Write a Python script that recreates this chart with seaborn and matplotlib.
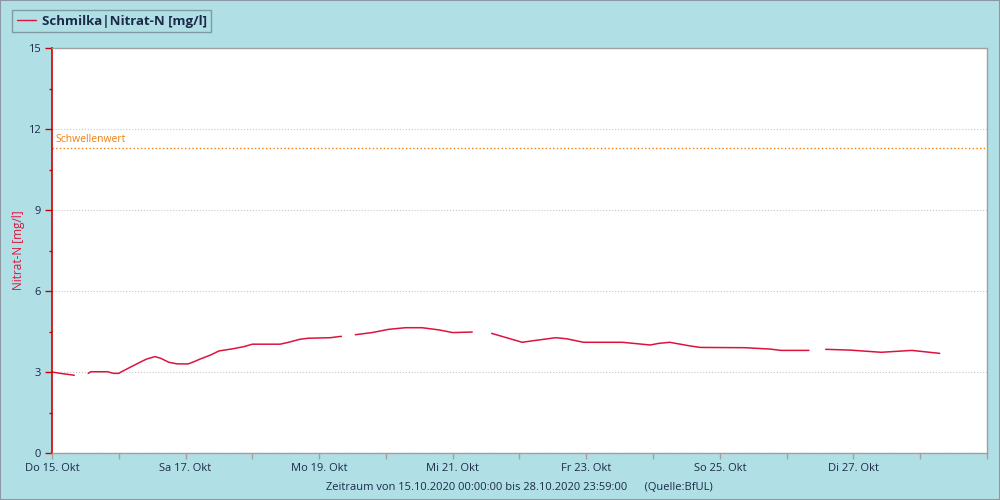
import pandas as pd
import numpy as np
import matplotlib.pyplot as plt
import matplotlib.dates as mdates
from matplotlib.ticker import MultipleLocator
from matplotlib.lines import Line2D
from matplotlib.patches import Rectangle
import seaborn as sns

# Messwerte Schmilka, Nitrat-N [mg/l] - Stunden ab 15.10.2020 00:00
hours = [0, 3, 8,
         13, 14, 20, 22, 24, 25, 28, 32, 34, 37, 39, 42, 45, 49, 51, 53, 57, 60,
         65, 69, 72, 82, 85, 89, 92, 100, 103, 104,
         109, 115, 121, 127, 133, 139, 144, 151,
         158, 163, 169, 173, 181, 185, 191, 205, 215, 218, 222, 229, 233, 249,
         258, 262, 272,
         278, 287, 298, 309, 319]
nitrat = [3.00, 2.95, 2.88,
          2.95, 3.01, 3.01, 2.95, 2.95, 3.01, 3.17, 3.38, 3.48, 3.57, 3.51, 3.36,
          3.30, 3.30, 3.38, 3.47, 3.63, 3.78, 3.86, 3.94, 4.03, 4.03, 4.10, 4.21,
          4.25, 4.27, 4.31, 4.32,
          4.38, 4.46, 4.58, 4.64, 4.64, 4.56, 4.46, 4.48,
          4.43, 4.28, 4.10, 4.16, 4.27, 4.23, 4.10, 4.10, 4.00, 4.06, 4.10, 3.97,
          3.91, 3.90, 3.85, 3.80, 3.80,
          3.84, 3.81, 3.73, 3.80, 3.69]
# Datenluecken trennen die Abschnitte
segment = [1] * 3 + [2] * 28 + [3] * 8 + [4] * 17 + [5] * 5

threshold = 11.3
tick_dates = ["2020-10-15", "2020-10-17", "2020-10-19", "2020-10-21",
              "2020-10-23", "2020-10-25", "2020-10-27"]
tick_labels = ["Do 15. Okt", "Sa 17. Okt", "Mo 19. Okt", "Mi 21. Okt",
               "Fr 23. Okt", "So 25. Okt", "Di 27. Okt"]
y_ticks = [0, 3, 6, 9, 12, 15]

BG = "#b0e0e6"
LINE = "#dc143c"
TXT = "#1c2a48"
GRAY = "#a0a0a0"

sns.set_style("white")
plt.rcParams['font.family'] = ['Open Sans', 'DejaVu Sans']

start = pd.Timestamp("2020-10-15")
df = pd.DataFrame({"zeit": start + pd.to_timedelta(hours, unit="h"),
                   "wert": nitrat, "seg": segment})

fig = plt.figure(figsize=(10, 5), dpi=100, facecolor=BG)
ax = fig.add_axes([0.052, 0.094, 0.935, 0.81])
ax.set_facecolor("white")

sns.lineplot(data=df, x="zeit", y="wert", units="seg", estimator=None,
             color=LINE, lw=1.1, ax=ax)

ax.axhline(threshold, color="#f08010", ls=":", lw=1)
ax.text(start + pd.Timedelta(hours=1.2), threshold + 0.12, "Schwellenwert",
        color="#f08010", fontsize=7.5, va="bottom", ha="left")

ax.set_xlim(start, start + pd.Timedelta(days=14))
ax.set_ylim(0, 15)
ax.set_xticks(pd.to_datetime(tick_dates))
ax.set_xticklabels(tick_labels)
ax.xaxis.set_minor_locator(mdates.DayLocator())
ax.set_yticks(y_ticks)
ax.yaxis.set_minor_locator(MultipleLocator(1.5))

ax.grid(axis="y", which="major", color="#c8c8c8", ls=":", lw=0.8)
ax.grid(axis="x", visible=False)

ax.tick_params(axis="x", which="both", colors=GRAY, length=4, width=1,
               labelcolor=TXT, labelsize=8, pad=3)
ax.tick_params(axis="y", which="major", colors="#cc0000", length=5, width=1,
               labelcolor=TXT, labelsize=8, pad=3)
ax.tick_params(axis="y", which="minor", colors="#cc0000", length=2, width=1)
ax.tick_params(left=True, bottom=True, which="both")

for side in ["top", "right", "bottom"]:
    ax.spines[side].set_color(GRAY)
    ax.spines[side].set_linewidth(1)
ax.spines["left"].set_color("#cc0000")
ax.spines["left"].set_linewidth(1.2)

ax.set_xlabel("Zeitraum von 15.10.2020 00:00:00 bis 28.10.2020 23:59:00      (Quelle:BfUL)",
              fontsize=8, color=TXT, labelpad=6)
ax.set_ylabel("Nitrat-N [mg/l]", fontsize=8.5, color=LINE, labelpad=2)

handle = Line2D([], [], color=LINE, lw=1)
leg = fig.legend(handles=[handle], labels=["Schmilka|Nitrat-N [mg/l]"],
                 loc="upper left", bbox_to_anchor=(0.012, 0.98),
                 borderaxespad=0, frameon=True, fancybox=False, facecolor=BG,
                 edgecolor="#7f9aa0", framealpha=1, handlelength=1.5,
                 handletextpad=0.4, borderpad=0.35,
                 prop={"weight": "bold", "size": 9.5})
for t in leg.get_texts():
    t.set_color(TXT)

fig.patches.append(Rectangle((0, 0), 1, 1, transform=fig.transFigure,
                             fill=False, edgecolor="#8c98a4", lw=1.5))

fig.savefig("out.png", dpi=100, facecolor=BG)
